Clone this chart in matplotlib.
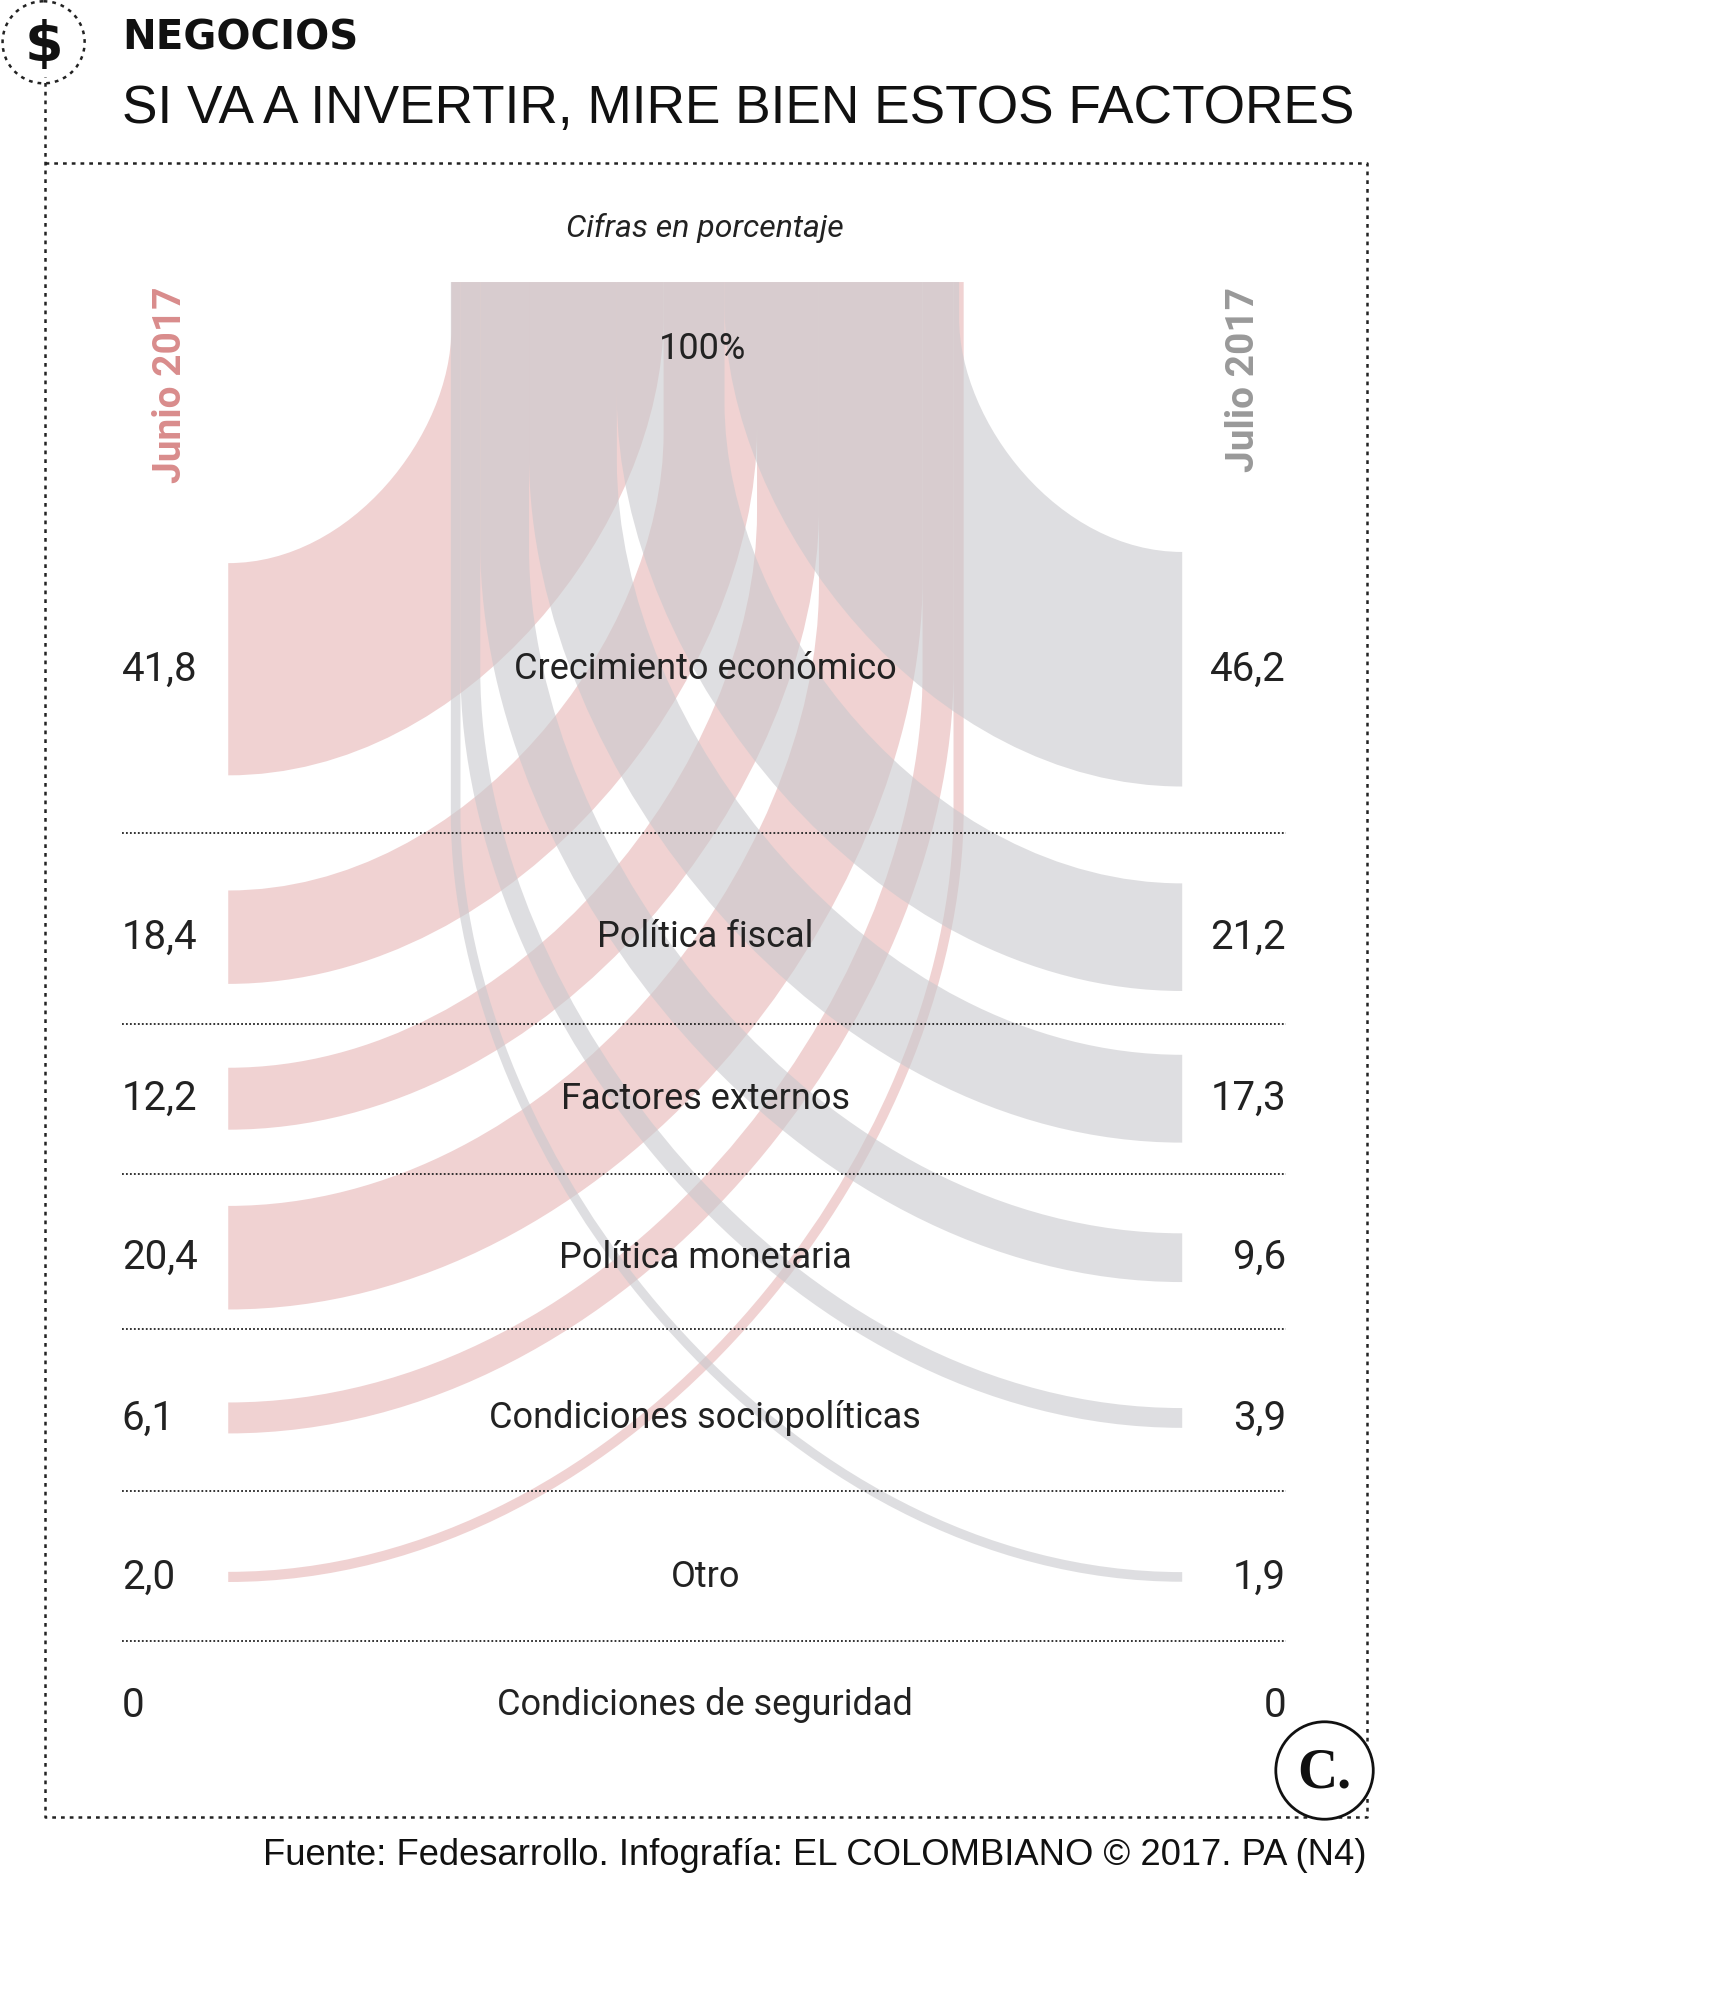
import matplotlib
matplotlib.use("Agg")
import matplotlib.pyplot as plt
from matplotlib.path import Path
from matplotlib.patches import PathPatch, Circle

categories = ["Crecimiento económico", "Política fiscal", "Factores externos",
              "Política monetaria", "Condiciones sociopolíticas", "Otro",
              "Condiciones de seguridad"]
junio = [41.8, 18.4, 12.2, 20.4, 6.1, 2.0, 0.0]
julio = [46.2, 21.2, 17.3, 9.6, 3.9, 1.9, 0.0]
junio_lbl = ["41,8", "18,4", "12,2", "20,4", "6,1", "2,0", "0"]
julio_lbl = ["46,2", "21,2", "17,3", "9,6", "3,9", "1,9", "0"]

W, H = 1350, 1560
fig = plt.figure(figsize=(17.31, 20), dpi=100)
ax = fig.add_axes([0, 0, 1, 1])
ax.set_xlim(0, W); ax.set_ylim(H, 0); ax.axis("off")

rows = [522, 731, 857, 981, 1106, 1230, 1330]
seps = [650, 799, 916, 1037, 1163, 1280]
k = 3.96
top = 220
xl, xr = 178, 922
cl, cr = 352, 748
PINK = "#e6b5b5"; GRAY = "#c9c9cd"

def arc(x0, y0, xv):
    yt = max(top, y0 - abs(xv - x0) * 1.05)
    c = 0.552
    return [(x0, y0), (x0 + c * (xv - x0), y0), (xv, y0 - c * (y0 - yt)), (xv, yt)]

def ribbon(xend, yc, val, xa, xb, color):
    h = val * k
    y1, y2 = yc - h / 2, yc + h / 2
    a1 = arc(xend, y1, xa)
    a2 = arc(xend, y2, xb)
    verts = a1 + [(xa, top), (xb, top), a2[3]] + [a2[2], a2[1], a2[0]] + [(xend, y1)]
    codes = ([Path.MOVETO, Path.CURVE4, Path.CURVE4, Path.CURVE4, Path.LINETO, Path.LINETO, Path.LINETO]
             + [Path.CURVE4, Path.CURVE4, Path.CURVE4, Path.CLOSEPOLY])
    ax.add_patch(PathPatch(Path(verts, codes), fc=color, ec="none", alpha=0.6, zorder=2))

x = cl
for v, y in zip(junio[:6], rows[:6]):
    w = v * k
    ribbon(xl, y, v, x, x + w, PINK)
    x += w
x = cr
for v, y in zip(julio[:6], rows[:6]):
    w = v * k
    ribbon(xr, y, v, x, x - w, GRAY)
    x -= w

for s in seps:
    ax.plot([95, 1003], [s, s], ls=(0, (1, 1.2)), color="#222", lw=1.3, zorder=3)

fs = 26
for c, y, a, b in zip(categories, rows, junio_lbl, julio_lbl):
    ax.text(550, y, c, ha="center", va="center", fontsize=fs, family="Roboto", color="#222", zorder=4)
    ax.text(95, y, a, ha="left", va="center", fontsize=fs + 3, family="Roboto", color="#222")
    ax.text(1003, y, b, ha="right", va="center", fontsize=fs + 3, family="Roboto", color="#222")

ax.text(548, 272, "100%", ha="center", va="center", fontsize=fs, family="Roboto", color="#222", zorder=4)
ax.text(550, 178, "Cifras en porcentaje", ha="center", va="center", fontsize=23,
        family="Roboto", style="italic", color="#222")
ax.text(133, 300, "Junio 2017", rotation=90, ha="center", va="center", fontsize=28,
        family="Roboto", weight="bold", color="#d98c8c")
ax.text(970, 296, "Julio 2017", rotation=90, ha="center", va="center", fontsize=28,
        family="Roboto", weight="bold", color="#999999")

ax.plot([35, 1066, 1066, 35, 35], [127, 127, 1417, 1417, 60], ls=(0, (1.5, 2)), color="#222", lw=1.8)
ax.add_patch(Circle((34, 33), 32, fill=False, ls=(0, (1.5, 2)), lw=1.8, ec="#222"))
ax.text(34, 36, "$", ha="center", va="center", fontsize=40, weight="bold", family="DejaVu Sans", color="#111")
ax.text(95, 30, "NEGOCIOS", ha="left", va="center", fontsize=29, weight="heavy", family="DejaVu Sans", color="#111")
ax.text(95, 85, "SI VA A INVERTIR, MIRE BIEN ESTOS FACTORES", ha="left", va="center",
        fontsize=38.3, family="Liberation Sans", color="#111")
ax.add_patch(Circle((1033, 1381), 38, fc="white", ec="#111", lw=2, zorder=5))
ax.text(1033, 1383, "C.", ha="center", va="center", fontsize=40, weight="bold",
        family="Liberation Serif", color="#111", zorder=6)
ax.text(1066, 1447, "Fuente: Fedesarrollo. Infografía: EL COLOMBIANO © 2017. PA (N4)",
        ha="right", va="center", fontsize=26.2, family="Liberation Sans", color="#111")

fig.savefig("out.png", dpi=100, facecolor="white")
